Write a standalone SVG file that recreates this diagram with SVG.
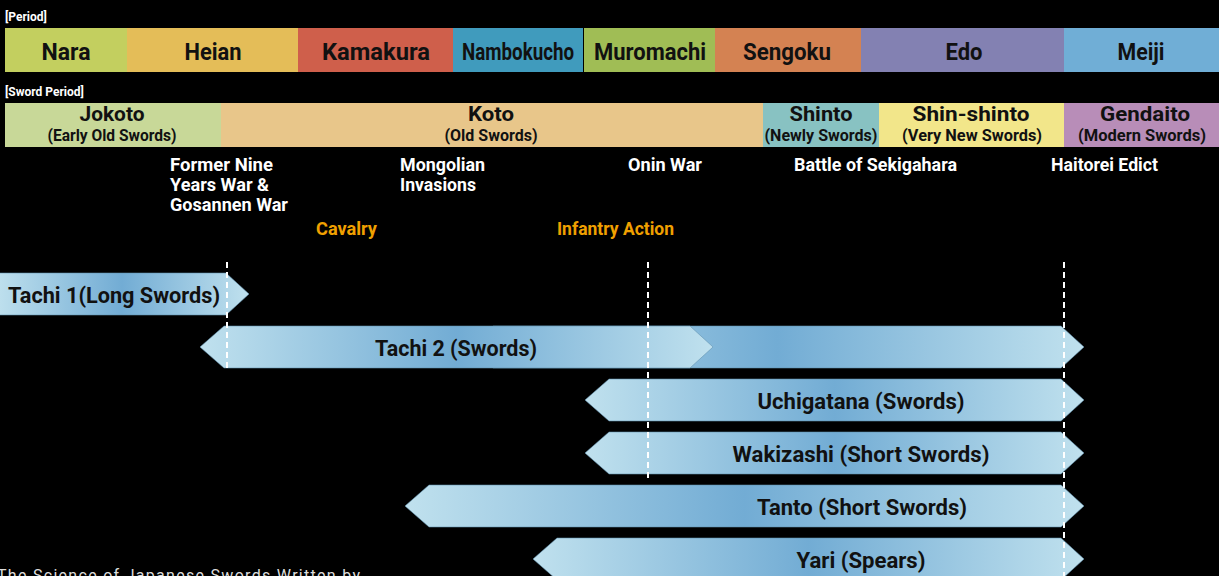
<svg xmlns="http://www.w3.org/2000/svg" width="1219" height="576" viewBox="0 0 1219 576">
<style>
.lbl{font-family:Roboto,"Liberation Sans",sans-serif;font-weight:700;fill:#111;text-anchor:middle}
.p{font-size:24px}
.s{font-size:20px}
.ss{font-size:16px}
.hdr{font-family:Roboto,"Liberation Sans",sans-serif;font-weight:700;font-size:12px;fill:#fff}
.ev{font-family:Roboto,"Liberation Sans",sans-serif;font-weight:700;font-size:18px;fill:#fff}
.or{font-family:Roboto,"Liberation Sans",sans-serif;font-weight:700;font-size:18px;fill:#f0a000}
.arr{fill:url(#bl);stroke:#5f8fae;stroke-width:0.8;stroke-opacity:0.7}
.at{font-family:Roboto,"Liberation Sans",sans-serif;font-weight:700;font-size:22px;fill:#111;text-anchor:middle}
.dash{stroke:#fff;stroke-width:2;stroke-dasharray:6,4;fill:none}
</style>
<defs>
<linearGradient id="bl" x1="0" y1="0" x2="1" y2="0">
<stop offset="0" stop-color="#c0e1ee"/>
<stop offset="0.5" stop-color="#72acd4"/>
<stop offset="1" stop-color="#c0e1ee"/>
</linearGradient>
</defs>
<rect width="1219" height="576" fill="#000"/>

<text class="hdr" x="5" y="21">[Period]</text>
<g id="period-nara"><rect x="5" y="28" width="122" height="44" fill="#c3cf5f"/><text class="lbl p" x="66" y="60" textLength="49" lengthAdjust="spacingAndGlyphs">Nara</text></g>
<g id="period-heian"><rect x="127" y="28" width="171" height="44" fill="#e4bd58"/><text class="lbl p" x="213" y="60" textLength="57" lengthAdjust="spacingAndGlyphs">Heian</text></g>
<g id="period-kamakura"><rect x="298" y="28" width="155" height="44" fill="#cf5f4b"/><text class="lbl p" x="376" y="60" textLength="108" lengthAdjust="spacingAndGlyphs">Kamakura</text></g>
<g id="period-nambokucho"><rect x="453" y="28" width="130" height="44" fill="#409bbd"/><text class="lbl p" x="518" y="60" textLength="112" lengthAdjust="spacingAndGlyphs">Nambokucho</text></g>
<g id="period-muromachi"><rect x="584" y="28" width="131" height="44" fill="#a0bd55"/><text class="lbl p" x="650" y="60" textLength="112" lengthAdjust="spacingAndGlyphs">Muromachi</text></g>
<g id="period-sengoku"><rect x="715" y="28" width="146" height="44" fill="#d48252"/><text class="lbl p" x="787" y="60" textLength="88" lengthAdjust="spacingAndGlyphs">Sengoku</text></g>
<g id="period-edo"><rect x="861" y="28" width="203" height="44" fill="#8381b2"/><text class="lbl p" x="964" y="60" textLength="37" lengthAdjust="spacingAndGlyphs">Edo</text></g>
<g id="period-meiji"><rect x="1064" y="28" width="155" height="44" fill="#70aed6"/><text class="lbl p" x="1141" y="60" textLength="47" lengthAdjust="spacingAndGlyphs">Meiji</text></g>

<text class="hdr" x="5" y="96">[Sword Period]</text>
<g id="sword-jokoto"><rect x="5" y="103" width="216" height="44" fill="#c8d898"/><text class="lbl s" x="112" y="121" textLength="65" lengthAdjust="spacingAndGlyphs">Jokoto</text><text class="lbl ss" x="112" y="141" textLength="129" lengthAdjust="spacingAndGlyphs">(Early Old Swords)</text></g>
<g id="sword-koto"><rect x="221" y="103" width="542" height="44" fill="#e8c68a"/><text class="lbl s" x="491" y="121" textLength="46" lengthAdjust="spacingAndGlyphs">Koto</text><text class="lbl ss" x="491" y="141" textLength="93" lengthAdjust="spacingAndGlyphs">(Old Swords)</text></g>
<g id="sword-shinto"><rect x="763" y="103" width="116" height="44" fill="#88c2c2"/><text class="lbl s" x="821" y="121" textLength="63" lengthAdjust="spacingAndGlyphs">Shinto</text><text class="lbl ss" x="821" y="141" textLength="113" lengthAdjust="spacingAndGlyphs">(Newly Swords)</text></g>
<g id="sword-shin-shinto"><rect x="879" y="103" width="185" height="44" fill="#f2e68a"/><text class="lbl s" x="971" y="121" textLength="117" lengthAdjust="spacingAndGlyphs">Shin-shinto</text><text class="lbl ss" x="972" y="141" textLength="140" lengthAdjust="spacingAndGlyphs">(Very New Swords)</text></g>
<g id="sword-gendaito"><rect x="1064" y="103" width="155" height="44" fill="#b88db8"/><text class="lbl s" x="1145" y="121" textLength="90" lengthAdjust="spacingAndGlyphs">Gendaito</text><text class="lbl ss" x="1142" y="141" textLength="128" lengthAdjust="spacingAndGlyphs">(Modern Swords)</text></g>

<g id="event-former-nine"><text class="ev" x="170" y="171" textLength="103" lengthAdjust="spacingAndGlyphs">Former Nine</text><text class="ev" x="170" y="191" textLength="99" lengthAdjust="spacingAndGlyphs">Years War &amp;</text><text class="ev" x="170" y="211" textLength="118" lengthAdjust="spacingAndGlyphs">Gosannen War</text></g>
<g id="event-mongolian"><text class="ev" x="400" y="171" textLength="85" lengthAdjust="spacingAndGlyphs">Mongolian</text><text class="ev" x="400" y="191" textLength="76" lengthAdjust="spacingAndGlyphs">Invasions</text></g>
<g id="event-onin"><text class="ev" x="628" y="171" textLength="74" lengthAdjust="spacingAndGlyphs">Onin War</text></g>
<g id="event-sekigahara"><text class="ev" x="794" y="171" textLength="163" lengthAdjust="spacingAndGlyphs">Battle of Sekigahara</text></g>
<g id="event-haitorei"><text class="ev" x="1051" y="171" textLength="107" lengthAdjust="spacingAndGlyphs">Haitorei Edict</text></g>
<g id="tactic-cavalry"><text class="or" x="316" y="235" textLength="61" lengthAdjust="spacingAndGlyphs">Cavalry</text></g>
<g id="tactic-infantry"><text class="or" x="557" y="235" textLength="117" lengthAdjust="spacingAndGlyphs">Infantry Action</text></g>

<g id="arrow-tachi1"><path class="arr" d="M-5,273 L226,273 L249,294 L226,315 L-5,315 Z"/><text class="at" x="114" y="303" textLength="212" lengthAdjust="spacingAndGlyphs">Tachi 1(Long Swords)</text></g>
<g id="arrow-tachi2-late"><path class="arr" d="M470,347 L493,326 L1061,326 L1084,347 L1061,368 L493,368 Z"/></g>
<g id="arrow-tachi2"><path class="arr" d="M200,347 L224,326 L690,326 L713,347 L690,368 L224,368 Z"/><text class="at" x="456" y="356" textLength="162" lengthAdjust="spacingAndGlyphs">Tachi 2 (Swords)</text></g>
<g id="arrow-uchigatana"><path class="arr" d="M585,400 L609,379 L1061,379 L1084,400 L1061,421 L609,421 Z"/><text class="at" x="861" y="409" textLength="207" lengthAdjust="spacingAndGlyphs">Uchigatana (Swords)</text></g>
<g id="arrow-wakizashi"><path class="arr" d="M585,453 L609,432 L1061,432 L1084,453 L1061,474 L609,474 Z"/><text class="at" x="861" y="462" textLength="257" lengthAdjust="spacingAndGlyphs">Wakizashi (Short Swords)</text></g>
<g id="arrow-tanto"><path class="arr" d="M405,506 L429,485 L1061,485 L1084,506 L1061,527 L429,527 Z"/><text class="at" x="862" y="515" textLength="210" lengthAdjust="spacingAndGlyphs">Tanto (Short Swords)</text></g>
<g id="arrow-yari"><path class="arr" d="M533,559 L557,538 L1061,538 L1084,559 L1061,580 L557,580 Z"/><text class="at" x="861" y="568" textLength="129" lengthAdjust="spacingAndGlyphs">Yari (Spears)</text></g>

<g id="connectors">
<line class="dash" x1="227" y1="262" x2="227" y2="370"/>
<line class="dash" x1="648" y1="262" x2="648" y2="482"/>
<line class="dash" x1="1064" y1="262" x2="1064" y2="576"/>
</g>

<text x="-3" y="581" font-family="Roboto,'Liberation Sans',sans-serif" font-size="16" fill="#ddd" textLength="363" lengthAdjust="spacing">The Science of Japanese Swords Written by</text>
</svg>
